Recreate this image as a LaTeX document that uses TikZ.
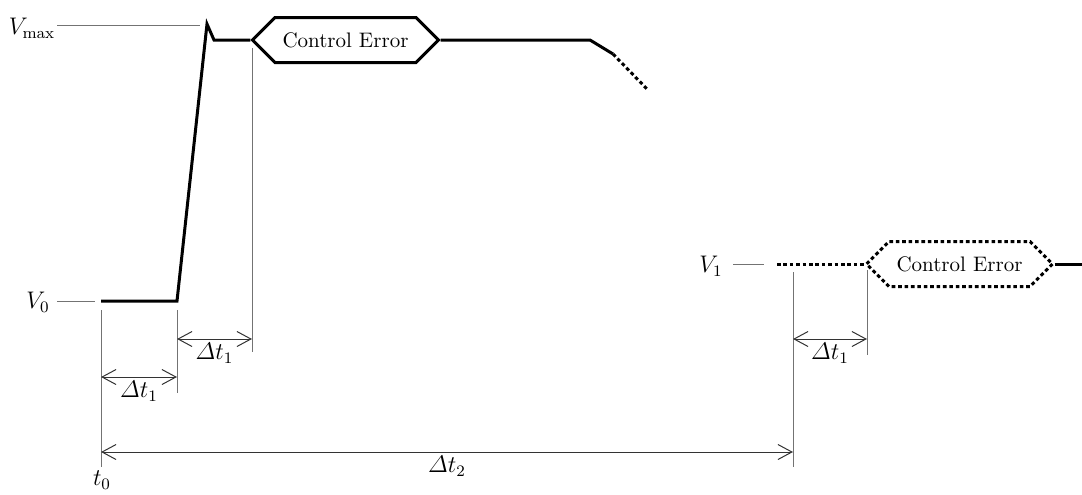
\documentclass[tikz,border=0pt]{standalone}
\usepackage{amsmath}
\usepackage{tikz}
\usetikzlibrary{positioning, arrows.meta, shapes.symbols}

\begin{document}
\begin{tikzpicture}[
    x=0.5pt, y=-0.5pt, % pixel grid of the drawing
    every node/.style={font=\large},
    sig/.style={line width=1.5pt, line join=miter},
    dotsig/.style={line width=1.5pt, dash pattern=on 1.8pt off 1.4pt},
    guide/.style={line width=0.5pt, black!55},
    dim/.style={line width=0.5pt, black!80,
        {Straight Barb[length=7pt,width=7.5pt]}-{Straight Barb[length=7pt,width=7.5pt]}},
    dimlabel/.style={below, inner sep=2pt, text=black},
    errbox/.style={signal, signal to=west and east, signal pointer angle=90,
        draw, minimum width=93pt, minimum height=22.5pt, inner sep=0pt,
        font=\fontsize{10.5}{12}\selectfont}
]
    \useasboundingbox (0,0) rectangle (1082,494);

    % level labels
    \node (vmax) at (32,28) {$V_{\mathrm{max}}$};
    \node (v0) at (38,302) {$V_0$};
    \node (v1) at (711,266) {$V_1$};
    \node (t0) at (102,480) {$t_0$};

    % guide ends
    \coordinate (vmaxa) at (57,25);
    \coordinate (vmaxb) at (200,25);
    \coordinate (v0a) at (57,301);
    \coordinate (v0b) at (95,301);
    \coordinate (v1a) at (733,264);
    \coordinate (v1b) at (764,264);

    % signal points
    \coordinate (p0) at (101,301);
    \coordinate (p1) at (177,301);
    \coordinate (p2) at (207,24);
    \coordinate (p3) at (214,40);
    \coordinate (p4) at (590,40);
    \coordinate (p5) at (613,54);
    \coordinate (p6) at (648,90);
    \coordinate (q0) at (777,264);
    \coordinate (q1) at (1082,264);

    \node[errbox, sig] (err1) at (345.5,40) {Control Error};
    \node[errbox, dotsig] (err2) at (959.5,264) {Control Error};

    % the signal
    \draw[sig] (p0) -- (p1) -- (p2) -- (p3) -- (err1.west);
    \draw[sig] (err1.east) -- (p4) -- (p5);
    \draw[dotsig] (p5) -- (p6);
    \draw[dotsig] (q0) -- (err2.west);
    \draw[sig] (err2.east) -- (q1);

    % level guides
    \draw[guide] (vmaxa) -- (vmaxb);
    \draw[guide] (v0a) -- (v0b);
    \draw[guide] (v1a) -- (v1b);

    % time marks
    \coordinate (m0a) at (101,310);  \coordinate (m0b) at (101,467);
    \coordinate (m1a) at (177,310);  \coordinate (m1b) at (177,393);
    \coordinate (m2a) at (252,48);   \coordinate (m2b) at (252,352);
    \coordinate (m3a) at (793,272);  \coordinate (m3b) at (793,467);
    \coordinate (m4a) at (867,270);  \coordinate (m4b) at (867,355);
    \draw[guide] (m0a) -- (m0b);
    \draw[guide] (m1a) -- (m1b);
    \draw[guide] (m2a) -- (m2b);
    \draw[guide] (m3a) -- (m3b);
    \draw[guide] (m4a) -- (m4b);

    % intervals
    \coordinate (d1a) at (101,377);  \coordinate (d1b) at (177,377);
    \coordinate (d2a) at (177,339);  \coordinate (d2b) at (252,339);
    \coordinate (d3a) at (793,339);  \coordinate (d3b) at (867,339);
    \coordinate (d4a) at (101,452);  \coordinate (d4b) at (793,452);
    \draw[dim] (d1a) -- node[dimlabel] {$\varDelta t_1$} (d1b);
    \draw[dim] (d2a) -- node[dimlabel] {$\varDelta t_1$} (d2b);
    \draw[dim] (d3a) -- node[dimlabel] {$\varDelta t_1$} (d3b);
    \draw[dim] (d4a) -- node[dimlabel] {$\varDelta t_2$} (d4b);
\end{tikzpicture}
\end{document}
